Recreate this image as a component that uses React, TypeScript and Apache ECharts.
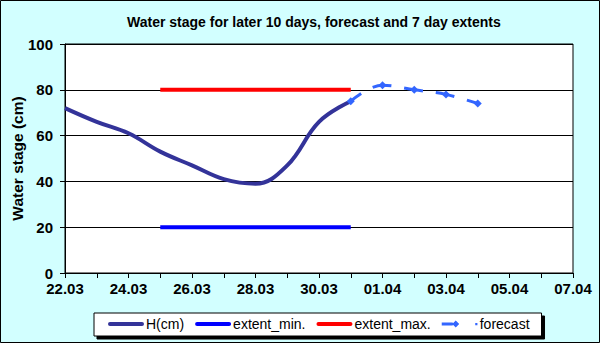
import React, { useEffect, useRef } from "react";
import * as echarts from "echarts";

const categories = [
  "22.03", "23.03", "24.03", "25.03", "26.03", "27.03", "28.03", "29.03", "30.03", "31.03",
  "01.04", "02.04", "03.04", "04.04", "05.04", "06.04", "07.04",
];
const hValues = [72, 66, 61, 53, 47, 41, 39, 47, 66, 75, null, null, null, null, null, null, null];
const extentMin = [null, null, null, 20, 20, 20, 20, 20, 20, 20, null, null, null, null, null, null, null];
const extentMax = [null, null, null, 80, 80, 80, 80, 80, 80, 80, null, null, null, null, null, null, null];
const forecast = [null, null, null, null, null, null, null, null, null, 75, 82, 80, 78, 74, null, null, null];
const seriesNames = ["H(cm)", "extent_min.", "extent_max.", "forecast"];

const FONT = "'Liberation Sans', Arial, sans-serif";

const BOX = "M0 0h0.01v0.01h-0.01z M36 8h-0.01v-0.01h0.01z ";
const LINE_ICON = "path://" + BOX + "M2 2h32a2 2 0 0 1 0 4h-32a2 2 0 0 1 0-4z";
const FORECAST_ICON =
  "path://" + BOX + "M0 2.5h11v3h-11z M14 0.5L17.5 4L14 7.5L10.5 4Z M33.5 3h2.2v2.2h-2.2z";

export default function App() {
  const ref = useRef<HTMLDivElement>(null);
  useEffect(() => {
    document.body.style.margin = "0";
    const chart = echarts.init(ref.current!, null, { renderer: "svg" });
    chart.setOption({
      animation: false,
      backgroundColor: "#D2FFFF",
      textStyle: { fontFamily: FONT },
      title: {
        text: "Water stage for later 10 days, forecast and 7 day extents",
        left: 122,
        top: 10,
        textStyle: { fontSize: 14, fontWeight: "bold", color: "#000", fontFamily: FONT },
      },
      graphic: [
        {
          type: "rect",
          shape: { x: 0.5, y: 0.5, width: 599, height: 342 },
          style: { fill: "none", stroke: "#000", lineWidth: 1 },
          silent: true,
        },
      ],
      grid: {
        left: 65,
        right: 27,
        top: 44,
        bottom: 70,
        show: true,
        backgroundColor: "#fff",
        borderColor: "#000",
        borderWidth: 1,
        containLabel: false,
        outerBoundsMode: "none",
      },
      legend: {
        data: [
          { name: seriesNames[0], icon: LINE_ICON },
          { name: seriesNames[1], icon: LINE_ICON },
          { name: seriesNames[2], icon: LINE_ICON },
          { name: seriesNames[3], icon: FORECAST_ICON },
        ],
        left: 94,
        top: 313,
        padding: [4, 12, 5, 14],
        itemGap: 11,
        itemWidth: 36,
        itemHeight: 8,
        backgroundColor: "#fff",
        borderColor: "#000",
        borderWidth: 1,
        shadowColor: "#000",
        shadowOffsetX: 3,
        shadowOffsetY: 3,
        shadowBlur: 0,
        textStyle: { fontSize: 14, color: "#000", fontFamily: FONT, padding: [0, 0, 0, -3] },
      },
      xAxis: {
        type: "category",
        data: categories,
        boundaryGap: false,
        axisLine: { lineStyle: { color: "#000", width: 1 } },
        axisTick: { show: true, interval: 0, length: 5, lineStyle: { color: "#000" } },
        axisLabel: {
          interval: 1,
          color: "#000",
          fontSize: 15,
          fontWeight: "bold",
          fontFamily: FONT,
          margin: 8,
        },
        splitLine: { show: false },
      },
      yAxis: {
        type: "value",
        min: 0,
        max: 100,
        interval: 20,
        name: "Water stage (cm)",
        nameLocation: "middle",
        nameGap: 40,
        nameMoveOverlap: false,
        nameTextStyle: { fontSize: 15.5, fontWeight: "bold", color: "#000", fontFamily: FONT },
        axisLine: { show: true, lineStyle: { color: "#000" } },
        axisTick: { show: true, length: 5, lineStyle: { color: "#000" } },
        axisLabel: { color: "#000", fontSize: 15, fontWeight: "bold", fontFamily: FONT, margin: 12 },
        splitLine: { show: true, lineStyle: { color: "#000", width: 1 } },
      },
      series: [
        {
          name: seriesNames[0],
          type: "line",
          data: hValues,
          smooth: 0.4,
          showSymbol: false,
          symbol: "none",
          lineStyle: { color: "#333399", width: 4 },
          itemStyle: { color: "#333399" },
          z: 3,
        },
        {
          name: seriesNames[1],
          type: "line",
          data: extentMin,
          symbol: "none",
          lineStyle: { color: "#0000FF", width: 4 },
          itemStyle: { color: "#0000FF" },
          z: 2,
        },
        {
          name: seriesNames[2],
          type: "line",
          data: extentMax,
          symbol: "none",
          lineStyle: { color: "#FF0000", width: 4 },
          itemStyle: { color: "#FF0000" },
          z: 2,
        },
        {
          name: seriesNames[3],
          type: "line",
          data: forecast,
          smooth: 0.4,
          symbol: "diamond",
          symbolSize: 8,
          showSymbol: true,
          lineStyle: { color: "#3366FF", width: 3, type: [19, 13], dashOffset: 6 },
          itemStyle: { color: "#3366FF" },
          z: 4,
        },
      ],
    });
    return () => chart.dispose();
  }, []);
  return <div ref={ref} style={{ width: 600, height: 343, position: "absolute", left: 0, top: 0 }} />;
}
